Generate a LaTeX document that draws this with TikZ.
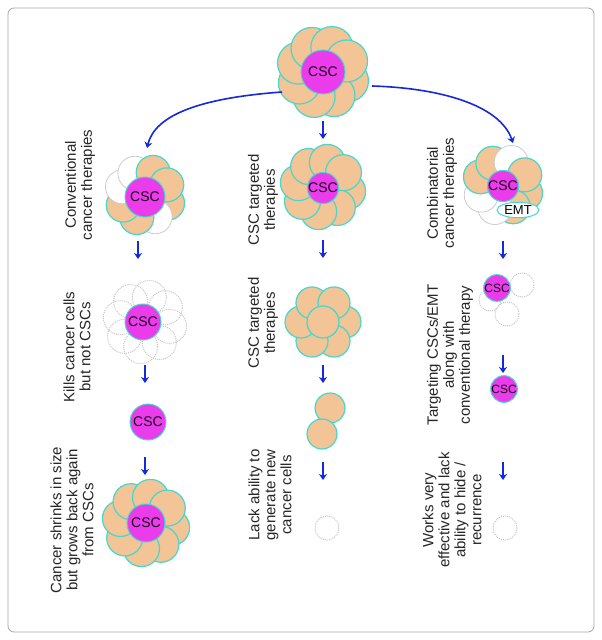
\documentclass[tikz,border=0pt]{standalone}
\usepackage{fontspec}
\setmainfont{Liberation Sans}
\usetikzlibrary{arrows.meta,shapes.geometric}
\definecolor{peach}{RGB}{242,196,150}
\definecolor{turq}{RGB}{70,215,205}
\definecolor{mag}{RGB}{235,60,235}
\definecolor{arr}{RGB}{20,40,220}
\begin{document}
\begin{tikzpicture}[x=1pt,y=-1pt,
 petal/.style={fill=peach,draw=turq,line width=1.2pt},
 wpetal/.style={fill=white,draw=gray!40,line width=0.8pt},
 dpetal/.style={draw=gray!45,dash pattern=on 1pt off 1pt,line width=1pt},
 csc/.style={circle,fill=mag,draw=turq,line width=1pt,inner sep=0pt,font=\fontsize{14}{14}\selectfont,text=black!80!violet},
 lab/.style={rotate=90,align=center,font=\fontsize{15}{16}\selectfont,text=black!85},
 ar/.style={draw=arr,line width=1.6pt,-{Stealth[length=6pt,width=8pt]}}]
\useasboundingbox (0,0) rectangle (602,640);
\draw[gray!70,rounded corners=6pt,line width=0.8pt] (8,8) rectangle (594,632);
% top cluster
\foreach \a in {0,45,...,315} \draw[petal] (323,72)++(\a+20:26) circle (21);
\node[csc,minimum size=44pt] (top) at (323,72) {CSC};
% column 1
\foreach \a/\s in {20/petal,65/wpetal,110/petal,155/petal,200/wpetal,245/wpetal,290/petal,335/petal}
  \draw[\s] (145,195)++(\a:24) circle (17);
\node[csc,minimum size=40pt] (c1a) at (145,197) {CSC};
\foreach \a in {0,45,...,315} \draw[dpetal] (145,322)++(\a+10:25) circle (17);
\node[csc,minimum size=36pt] (c1b) at (143,322) {CSC};
\node[csc,minimum size=36pt] (c1c) at (148,422) {CSC};
\foreach \a in {0,45,...,315} \draw[petal] (146,523)++(\a+10:26) circle (18);
\node[csc,minimum size=38pt] (c1d) at (146,523) {CSC};
\node[lab] at (80,185) {Conventional\\cancer therapies};
\node[lab] at (77,347) {Kills cancer cells\\but not CSCs};
\node[lab] at (72,520) {Cancer shrinks in size\\but grows back again\\from CSCs};
% column 2
\foreach \a in {0,45,...,315} \draw[petal] (323,187)++(\a+10:25) circle (18);
\node[csc,minimum size=26pt] (c2a) at (323,188) {CSC};
\foreach \a in {0,60,...,300} \draw[petal] (323,322)++(\a:22) circle (16);
\draw[petal] (323,322) circle (16);
\draw[petal] (330,408) circle (15);
\draw[petal] (322,434) circle (15);
\draw[dpetal] (327,528) circle (12);
\node[lab] at (263,200) {CSC targeted\\therapies};
\node[lab] at (263,323) {CSC targeted\\therapies};
\node[lab] at (270,495) {Lack ability to\\generate new\\cancer cells};
% column 3
\foreach \a/\s in {20/petal,65/petal,110/wpetal,155/wpetal,200/petal,245/petal,290/wpetal,335/petal}
  \draw[\s] (503,185)++(\a:24) circle (17);
\node[csc,minimum size=28pt] (c3a) at (503,186) {CSC};
\node[ellipse,draw=turq,fill=white,line width=1pt,inner sep=1pt,minimum width=42pt,font=\fontsize{13}{13}\selectfont] (emt) at (518,210) {EMT};
\draw[dpetal] (522,285) circle (12);
\draw[dpetal] (490,300) circle (11);
\draw[dpetal] (507,314) circle (12);
\node[csc,minimum size=18pt,font=\fontsize{12}{12}\selectfont] (c3b) at (497,288) {CSC};
\node[csc,minimum size=16pt,font=\fontsize{12}{12}\selectfont] (c3c) at (504,389) {CSC};
\draw[dpetal] (505,528) circle (12);
\node[lab] at (442,193) {Combinatorial\\cancer therapies};
\node[lab] at (450,355) {Targeting CSCs/EMT\\along with\\conventional therapy};
\node[lab] at (452,510) {Works very\\effective and lack\\ability to hide /\\recurrence};
% arrows
\coordinate (l1) at (147,148); \coordinate (r1) at (513,143);
\draw[ar] (282,92) .. controls (200,98) and (155,115) .. (l1);
\draw[ar] (372,86) .. controls (440,88) and (500,105) .. (r1);
\foreach \x/\y in {323/121,138/241,145/365,145/457,323/240,323/365,323/462,503/241,503/355,503/462}
  \draw[ar] (\x,\y) -- (\x,\y+18);
\end{tikzpicture}
\end{document}
